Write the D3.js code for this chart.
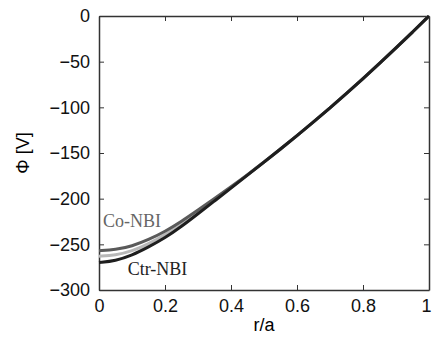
<!DOCTYPE html>
<html>
<head>
<meta charset="utf-8">
<script src="https://cdn.jsdelivr.net/npm/d3@7"></script>
<style>
  body { margin: 0; background: #fff; }
  .axis text { font-family: "Liberation Sans", Arial, sans-serif; font-size: 18px; fill: #111; }
  .axis path, .axis line { stroke: #333; }
  .lbl { font-family: "Liberation Serif", "Times New Roman", serif; font-size: 18px; }
</style>
</head>
<body>
<div id="chart"></div>
<script>
// r/a positions
const rVals = [0, 0.05, 0.1, 0.15, 0.2, 0.25, 0.3, 0.35, 0.4, 0.45, 0.5, 0.55, 0.6, 0.65, 0.7, 0.75, 0.8, 0.85, 0.9, 0.95, 1.0];
// potential profiles [V]
const coNBI  = [-257, -256, -252, -245, -236, -225, -212.5, -200, -187, -173.8, -160, -145.7, -131, -116, -100.6, -84.8, -68.6, -52, -35, -17.6, 0];
const midNBI = [-263, -262, -257.5, -249.5, -239.5, -227.5, -214, -201, -187.7, -174, -160, -145.7, -131, -116, -100.6, -84.8, -68.6, -52, -35, -17.6, 0];
const ctrNBI = [-270, -268, -262, -253, -243, -230.5, -216.5, -202.5, -188.5, -174.3, -160, -145.7, -131, -116, -100.6, -84.8, -68.6, -52, -35, -17.6, 0];

const xTicks = [0, 0.2, 0.4, 0.6, 0.8, 1];
const yTicks = [0, -50, -100, -150, -200, -250, -300];

const W = 432, H = 338;
const margin = { top: 16, right: 3, bottom: 48, left: 99 };

const svg = d3.select("#chart").append("svg")
  .attr("width", W)
  .attr("height", H);

const x = d3.scaleLinear().domain([0, 1]).range([margin.left, W - margin.right]);
const y = d3.scaleLinear().domain([-300, 0]).range([H - margin.bottom, margin.top]);

const fmtX = d => d === 0 || d === 1 ? String(d) : d3.format(".1f")(d);
const fmtY = d => d < 0 ? "\u2212" + Math.abs(d) : String(d);

// bottom axis
const xAxisG = svg.append("g")
  .attr("class", "axis")
  .attr("transform", "translate(0," + y(-300) + ")")
  .call(d3.axisBottom(x).tickValues(xTicks).tickFormat(fmtX).tickSizeInner(-5).tickSizeOuter(0).tickPadding(9));
// last label sits at the window edge, nudge it in a bit
xAxisG.selectAll(".tick text").filter(d => d === 1).attr("dx", "-3");

// top axis
svg.append("g")
  .attr("class", "axis")
  .attr("transform", "translate(0," + y(0) + ")")
  .call(d3.axisTop(x).tickValues(xTicks).tickFormat("").tickSizeInner(-5).tickSizeOuter(0));

// left axis
svg.append("g")
  .attr("class", "axis")
  .attr("transform", "translate(" + x(0) + ",0)")
  .call(d3.axisLeft(y).tickValues(yTicks).tickFormat(fmtY).tickSizeInner(-5).tickSizeOuter(0).tickPadding(9));

// right axis
svg.append("g")
  .attr("class", "axis")
  .attr("transform", "translate(" + x(1) + ",0)")
  .call(d3.axisRight(y).tickValues(yTicks).tickFormat("").tickSizeInner(-5).tickSizeOuter(0));

svg.selectAll(".axis .domain").attr("stroke-width", 1.5);

const line = d3.line()
  .x((d, i) => x(rVals[i]))
  .y(d => y(d))
  .curve(d3.curveBasis);

const series = [
  { vals: midNBI, color: "#b8b8b8" },
  { vals: coNBI, color: "#5a5a5a" },
  { vals: ctrNBI, color: "#1e1e1e" }
];

svg.selectAll(".prof")
  .data(series)
  .enter().append("path")
  .attr("class", "prof")
  .attr("d", d => line(d.vals))
  .attr("fill", "none")
  .attr("stroke", d => d.color)
  .attr("stroke-width", 3);

// labels
svg.append("text").attr("class", "lbl")
  .attr("x", x(0.012)).attr("y", 227)
  .attr("fill", "#666").text("Co-NBI");

svg.append("text").attr("class", "lbl")
  .attr("x", x(0.087)).attr("y", 275)
  .attr("fill", "#222").text("Ctr-NBI");

// axis titles
svg.append("text")
  .attr("x", x(0.5)).attr("y", 331)
  .attr("text-anchor", "middle")
  .style("font-family", "'Liberation Sans', Arial, sans-serif")
  .style("font-size", "18px")
  .text("r/a");

svg.append("text")
  .attr("transform", "translate(29," + y(-150) + ") rotate(-90)")
  .attr("text-anchor", "middle")
  .style("font-family", "'Liberation Sans', Arial, sans-serif")
  .style("font-size", "18px")
  .text("\u03a6 [V]");
</script>
</body>
</html>
